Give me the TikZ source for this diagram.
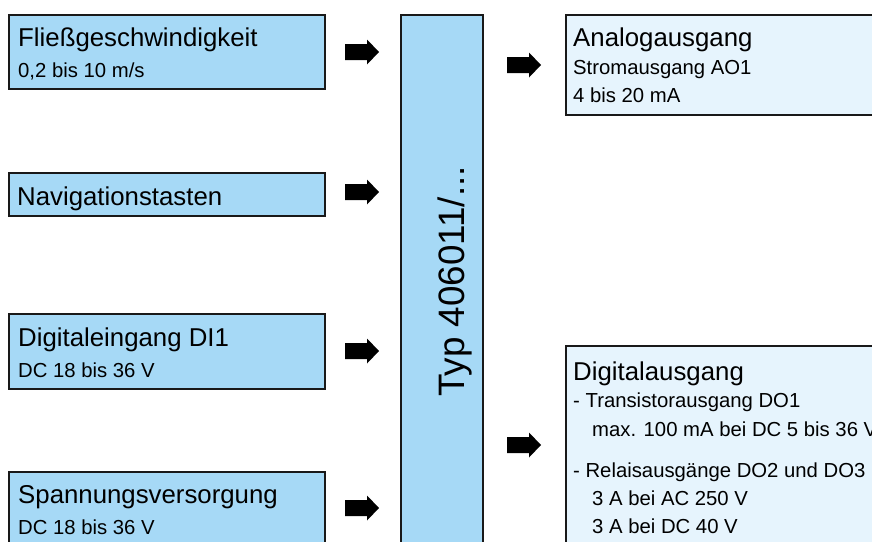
\documentclass[tikz,border=0pt]{standalone}
\usepackage{fontspec}
\setmainfont{Liberation Sans}
\definecolor{inblue}{RGB}{166,217,246}
\definecolor{outblue}{RGB}{230,244,253}
\definecolor{edge}{RGB}{25,25,25}
\newcommand\blkarrow[1]{\fill[black] (#1) ++(0,-8) -- ++(22,0) -- ++(0,-4.5) -- ++(12,12.5) -- ++(-12,12.5) -- ++(0,-4.5) -- ++(-22,0) -- cycle;}
\begin{document}
\begin{tikzpicture}[x=1pt,y=-1pt,
  inbox/.style={draw=edge, line width=2pt, fill=inblue, anchor=north west, inner sep=0pt},
  outbox/.style={draw=edge, line width=2pt, fill=outblue, anchor=north west, inner sep=0pt},
  big/.style={font=\fontsize{25.8}{28}\selectfont, inner sep=0pt, anchor=base west},
  small/.style={font=\fontsize{20.3}{28}\selectfont, inner sep=0pt, anchor=base west}]
\path[use as bounding box] (0,0) rectangle (872,541);
\clip (0,0) rectangle (872,541);
% input boxes
\node[inbox, minimum width=316pt, minimum height=74pt] (b1) at (8,14) {};
\node[inbox, minimum width=316pt, minimum height=43pt] (b2) at (8,172) {};
\node[inbox, minimum width=316pt, minimum height=75pt] (b3) at (8,313) {};
\node[inbox, minimum width=316pt, minimum height=89pt] (b4) at (8,471) {};
% central box
\node[inbox, minimum width=82pt, minimum height=546pt] (c) at (400,14) {};
% output boxes
\node[outbox, minimum width=325pt, minimum height=100pt] (o1) at (565,14) {};
\node[outbox, minimum width=325pt, minimum height=215pt] (o2) at (565,345) {};
% texts
\node[big] (t1a) at (18,46) {Fließgeschwindigkeit};
\node[small] (t1b) at (18,77) {0,2 bis 10 m/s};
\node[big] (t2a) at (17,205) {Navigationstasten};
\node[big] (t3a) at (18,346) {Digitaleingang DI1};
\node[small] (t3b) at (18,377) {DC 18 bis 36 V};
\node[big] (t4a) at (18,503) {Spannungsversorgung};
\node[small] (t4b) at (18,534) {DC 18 bis 36 V};
\node[font=\fontsize{36.8}{38}\selectfont, inner sep=0pt, anchor=base, rotate=90] (tc) at (464,281.5) {Typ 406011/...};
\node[big] (o1a) at (573,46) {Analogausgang};
\node[small] (o1b) at (573,74) {Stromausgang AO1};
\node[small] (o1c) at (573,102) {4 bis 20 mA};
\node[big] (o2a) at (573,380) {Digitalausgang};
\node[small] (o2b) at (573,407) {- Transistorausgang DO1};
\node[small] (o2c) at (592,436) {max. 100 mA bei DC 5 bis 36 V};
\node[small] (o2d) at (573,477) {- Relaisausgänge DO2 und DO3};
\node[small] (o2e) at (592,505) {3 A bei AC 250 V};
\node[small] (o2f) at (592,533) {3 A bei DC 40 V};
% arrows
\coordinate (a1) at (345,52);
\coordinate (a2) at (345,192);
\coordinate (a3) at (345,351);
\coordinate (a4) at (345,508);
\coordinate (r1) at (507,65);
\coordinate (r2) at (507,445);
\blkarrow{a1}
\blkarrow{a2}
\blkarrow{a3}
\blkarrow{a4}
\blkarrow{r1}
\blkarrow{r2}
\end{tikzpicture}
\end{document}
